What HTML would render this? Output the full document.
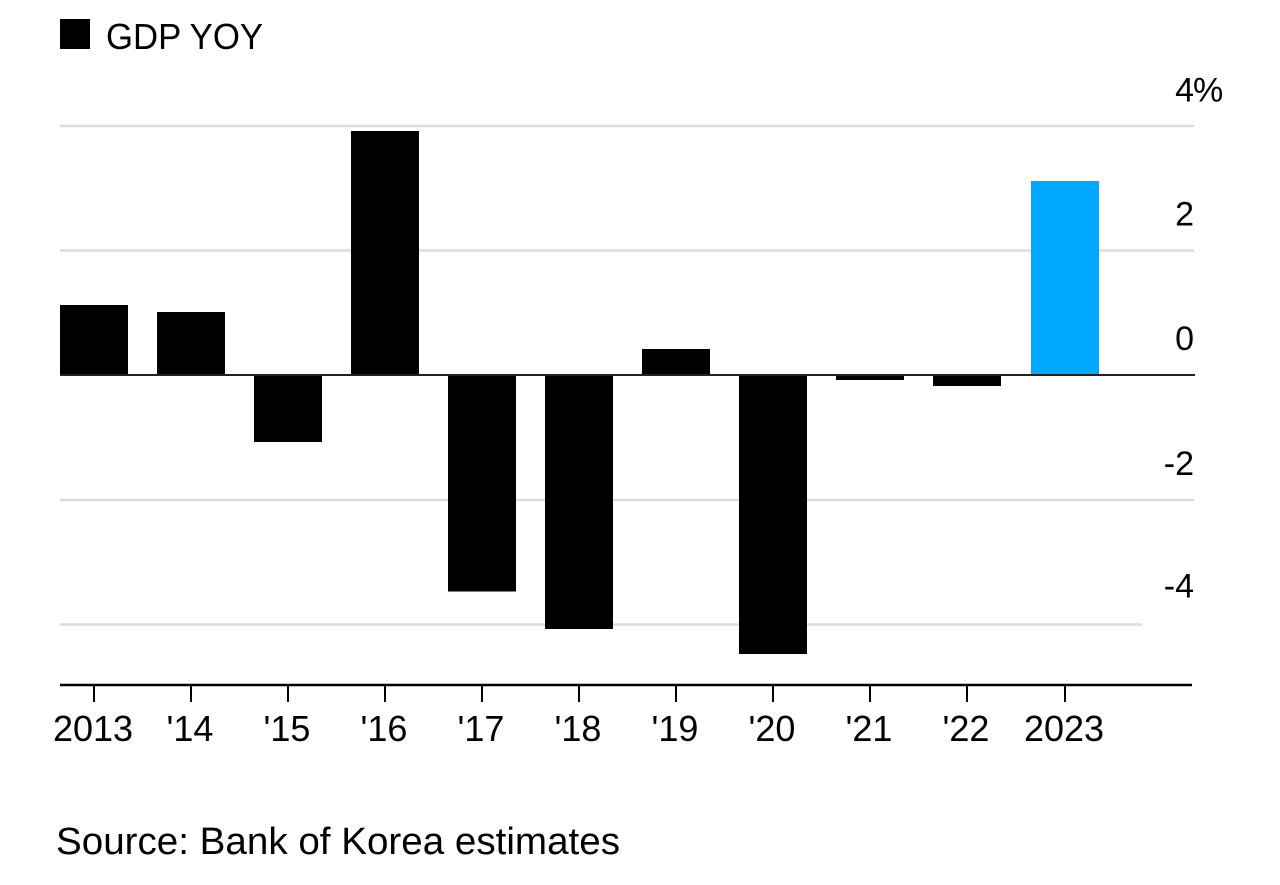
<!DOCTYPE html>
<html>
<head>
<meta charset="utf-8">
<style>
  html, body { margin:0; padding:0; background:#fff; }
  svg { display:block; }
  text { font-family: "Liberation Sans", Arial, sans-serif; fill:#000; }
</style>
</head>
<body>
<svg width="1280" height="885" viewBox="0 0 1280 885" xmlns="http://www.w3.org/2000/svg">
  <rect x="0" y="0" width="1280" height="885" fill="#fff"/>

  <!-- Legend -->
  <rect x="60" y="19" width="30" height="30" fill="#000"/>
  <text x="106" y="49" font-size="36" textLength="157" lengthAdjust="spacingAndGlyphs">GDP YOY</text>

  <!-- Gridlines -->
  <g stroke="#dcdcdc" stroke-width="2.5">
    <line x1="60" y1="126" x2="1194" y2="126"/>
    <line x1="60" y1="250.5" x2="1194" y2="250.5"/>
    <line x1="60" y1="500" x2="1194" y2="500"/>
    <line x1="60" y1="624.5" x2="1142" y2="624.5"/>
  </g>

  <!-- Y labels -->
  <g font-size="34">
    <text x="1194" y="101.5" text-anchor="end">4</text>
    <text x="1193" y="101.5">%</text>
    <text x="1194" y="225.5" text-anchor="end">2</text>
    <text x="1194" y="350" text-anchor="end">0</text>
    <text x="1194" y="475" text-anchor="end">-2</text>
    <text x="1194" y="597.5" text-anchor="end">-4</text>
  </g>

  <!-- Bars -->
  <g fill="#000">
    <rect x="60" y="305" width="68" height="70"/>
    <rect x="157" y="312" width="68" height="63"/>
    <rect x="254" y="375" width="68" height="67"/>
    <rect x="351" y="131" width="68" height="244"/>
    <rect x="448" y="375" width="68" height="216.5"/>
    <rect x="545" y="375" width="68" height="254"/>
    <rect x="642" y="349" width="68" height="26"/>
    <rect x="739" y="375" width="68" height="279"/>
    <rect x="836" y="375" width="68" height="5"/>
    <rect x="933" y="375" width="68" height="11"/>
  </g>
  <rect x="1031" y="181" width="68" height="194" fill="#00a9ff"/>

  <!-- Zero line -->
  <line x1="60" y1="375" x2="1195" y2="375" stroke="#222" stroke-width="2"/>

  <!-- Bottom axis -->
  <line x1="60" y1="685" x2="1192" y2="685" stroke="#000" stroke-width="2.5"/>
  <g stroke="#000" stroke-width="2">
    <line x1="94" y1="685" x2="94" y2="702"/>
    <line x1="191" y1="685" x2="191" y2="702"/>
    <line x1="288" y1="685" x2="288" y2="702"/>
    <line x1="385" y1="685" x2="385" y2="702"/>
    <line x1="482" y1="685" x2="482" y2="702"/>
    <line x1="579" y1="685" x2="579" y2="702"/>
    <line x1="676" y1="685" x2="676" y2="702"/>
    <line x1="773" y1="685" x2="773" y2="702"/>
    <line x1="870" y1="685" x2="870" y2="702"/>
    <line x1="967" y1="685" x2="967" y2="702"/>
    <line x1="1065" y1="685" x2="1065" y2="702"/>
  </g>

  <!-- X labels -->
  <g font-size="36" text-anchor="middle">
    <text x="93" y="741">2013</text>
    <text x="190" y="741">'14</text>
    <text x="287" y="741">'15</text>
    <text x="384" y="741">'16</text>
    <text x="481" y="741">'17</text>
    <text x="578" y="741">'18</text>
    <text x="675" y="741">'19</text>
    <text x="772" y="741">'20</text>
    <text x="869" y="741">'21</text>
    <text x="966" y="741">'22</text>
    <text x="1064" y="741">2023</text>
  </g>

  <!-- Source -->
  <text x="56" y="854" font-size="38" textLength="564" lengthAdjust="spacingAndGlyphs">Source: Bank of Korea estimates</text>
</svg>
</body>
</html>
